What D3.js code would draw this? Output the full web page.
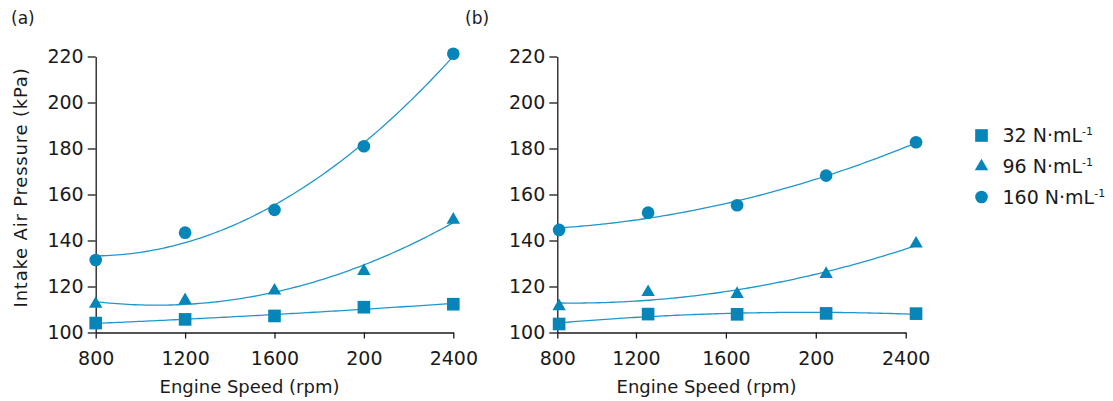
<!DOCTYPE html>
<html>
<head>
<meta charset="utf-8">
<script src="https://cdn.jsdelivr.net/npm/d3@7"></script>
<style>
  html, body { margin: 0; padding: 0; background: #fff; }
  svg { display: block; font-family: "DejaVu Sans", sans-serif; }
</style>
</head>
<body>
<svg id="chart" width="1113" height="401"></svg>
<script>
// ---- data ----
const speedA = [800, 1200, 1600, 2000, 2400];
const speedB = [858, 1254, 1650, 2046, 2446];
const a32  = [104.1, 105.7, 107.2, 111.0, 112.3];
const a96  = [112.4, 114.0, 118.2, 126.7, 149.0];
const a160 = [131.5, 143.4, 153.3, 181.0, 221.2];
const b32  = [103.7, 108.0, 107.9, 108.3, 108.2];
const b96  = [111.4, 117.5, 116.7, 125.4, 138.6];
const b160 = [144.6, 152.1, 155.3, 168.2, 182.7];
const yTickValues = [100, 120, 140, 160, 180, 200, 220];
const xTickValuesA = [800, 1200, 1600, 2000, 2400];
const xTickValuesB = [850, 1200, 1600, 2000, 2400];
const xTickLabels = ["800", "1200", "1600", "200", "2400"];
const seriesNames = ["32 N·mL", "96 N·mL", "160 N·mL"];
const seriesSup = "-1";
const panelLabels = ["(a)", "(b)"];
const xTitle = "Engine Speed (rpm)";
const yTitle = "Intake Air Pressure (kPa)";

const markerColor = "#0686b8";
const lineColor = "#1f97cc";
const svg = d3.select("#chart");

// quadratic least-squares trendline
function quadFit(xs, ys) {
  const mx = d3.mean(xs);
  const t = xs.map(x => x - mx);
  let s0 = t.length, s1 = 0, s2 = 0, s3 = 0, s4 = 0, r0 = 0, r1 = 0, r2 = 0;
  t.forEach((v, i) => {
    s1 += v; s2 += v * v; s3 += v * v * v; s4 += v * v * v * v;
    r0 += ys[i]; r1 += v * ys[i]; r2 += v * v * ys[i];
  });
  const M = [[s0, s1, s2, r0], [s1, s2, s3, r1], [s2, s3, s4, r2]];
  for (let c = 0; c < 3; c++) {
    for (let r = c + 1; r < 3; r++) {
      const f = M[r][c] / M[c][c];
      for (let k = c; k < 4; k++) M[r][k] -= f * M[c][k];
    }
  }
  const coef = [0, 0, 0];
  for (let r = 2; r >= 0; r--) {
    let s = M[r][3];
    for (let k = r + 1; k < 3; k++) s -= M[r][k] * coef[k];
    coef[r] = s / M[r][r];
  }
  return x => { const v = x - mx; return coef[0] + coef[1] * v + coef[2] * v * v; };
}

const symbols = [d3.symbolSquare, d3.symbolTriangle, d3.symbolCircle];
const symSizes = [160, 78, 125];

function drawPanel(cfg) {
  const x = d3.scaleLinear().domain(cfg.xDomain).range(cfg.xRange);
  const y = d3.scaleLinear().domain([100, 220]).range([332.5, 56.5]);
  const g = svg.append("g");

  // y axis
  const yAxis = d3.axisLeft(y).tickValues(yTickValues).tickSize(8).tickSizeOuter(0).tickPadding(4);
  const ya = g.append("g").attr("transform", `translate(${cfg.xRange[0]},0)`).call(yAxis);
  ya.selectAll("text").attr("font-size", 19).attr("fill", "#1a1a1a").attr("font-family", "DejaVu Sans");

  // x axis
  const xAxis = d3.axisBottom(x).tickValues(cfg.xTicks).tickSize(6).tickSizeOuter(0).tickPadding(13)
    .tickFormat((d, i) => xTickLabels[i]);
  const xa = g.append("g").attr("transform", `translate(0,${y(100)})`).call(xAxis);
  xa.selectAll("text").attr("font-size", 19).attr("fill", "#1a1a1a").attr("font-family", "DejaVu Sans");
  [ya, xa].forEach(a => {
    a.selectAll("path,line").attr("stroke", "#1a1a1a").attr("stroke-width", 1.3);
  });

  // trendlines and markers
  cfg.series.forEach((vals, si) => {
    const f = quadFit(cfg.speeds, vals);
    const x0 = cfg.speeds[0], x1 = cfg.speeds[cfg.speeds.length - 1];
    const pts = d3.range(0, 101).map(k => x0 + (x1 - x0) * k / 100);
    g.append("path")
      .attr("d", d3.line().x(d => x(d)).y(d => y(f(d)))(pts))
      .attr("fill", "none").attr("stroke", lineColor).attr("stroke-width", 1.3);
    g.selectAll(null).data(vals).enter().append("path")
      .attr("d", d3.symbol(symbols[si], symSizes[si]))
      .attr("transform", (d, i) => `translate(${x(cfg.speeds[i])},${y(d)})`)
      .attr("fill", markerColor);
  });

  // titles
  g.append("text").attr("x", (cfg.xRange[0] + cfg.xRange[1]) / 2 - 25).attr("y", 393)
    .attr("text-anchor", "middle").attr("font-size", 18).attr("fill", "#1a1a1a").text(xTitle);
  g.append("text").attr("x", cfg.labelX).attr("y", 24).attr("font-size", 17).attr("fill", "#1a1a1a")
    .text(cfg.label);
}

drawPanel({
  xDomain: [800, 2400], xRange: [95.7, 453.3], xTicks: xTickValuesA,
  speeds: speedA, series: [a32, a96, a160], label: panelLabels[0], labelX: 11
});
drawPanel({
  xDomain: [850, 2400], xRange: [557.3, 905.7], xTicks: xTickValuesB,
  speeds: speedB, series: [b32, b96, b160], label: panelLabels[1], labelX: 465
});

// y title (panel a only)
svg.append("text").attr("transform", "translate(26.5,187.5) rotate(-90)")
  .attr("text-anchor", "middle").attr("font-size", 18).attr("letter-spacing", 0.8)
  .attr("fill", "#1a1a1a").text(yTitle);

// legend
const legendY = [135.5, 166.5, 197];
const legend = svg.append("g");
seriesNames.forEach((name, i) => {
  legend.append("path").attr("d", d3.symbol(symbols[i], symSizes[i]))
    .attr("transform", `translate(981.5,${legendY[i]})`).attr("fill", markerColor);
  const t = legend.append("text").attr("x", 1002.5).attr("y", legendY[i] + 6.5)
    .attr("font-size", 19).attr("fill", "#1a1a1a");
  t.append("tspan").text(name);
  t.append("tspan").attr("font-size", 11).attr("dy", -7).text(seriesSup);
});
</script>
</body>
</html>
